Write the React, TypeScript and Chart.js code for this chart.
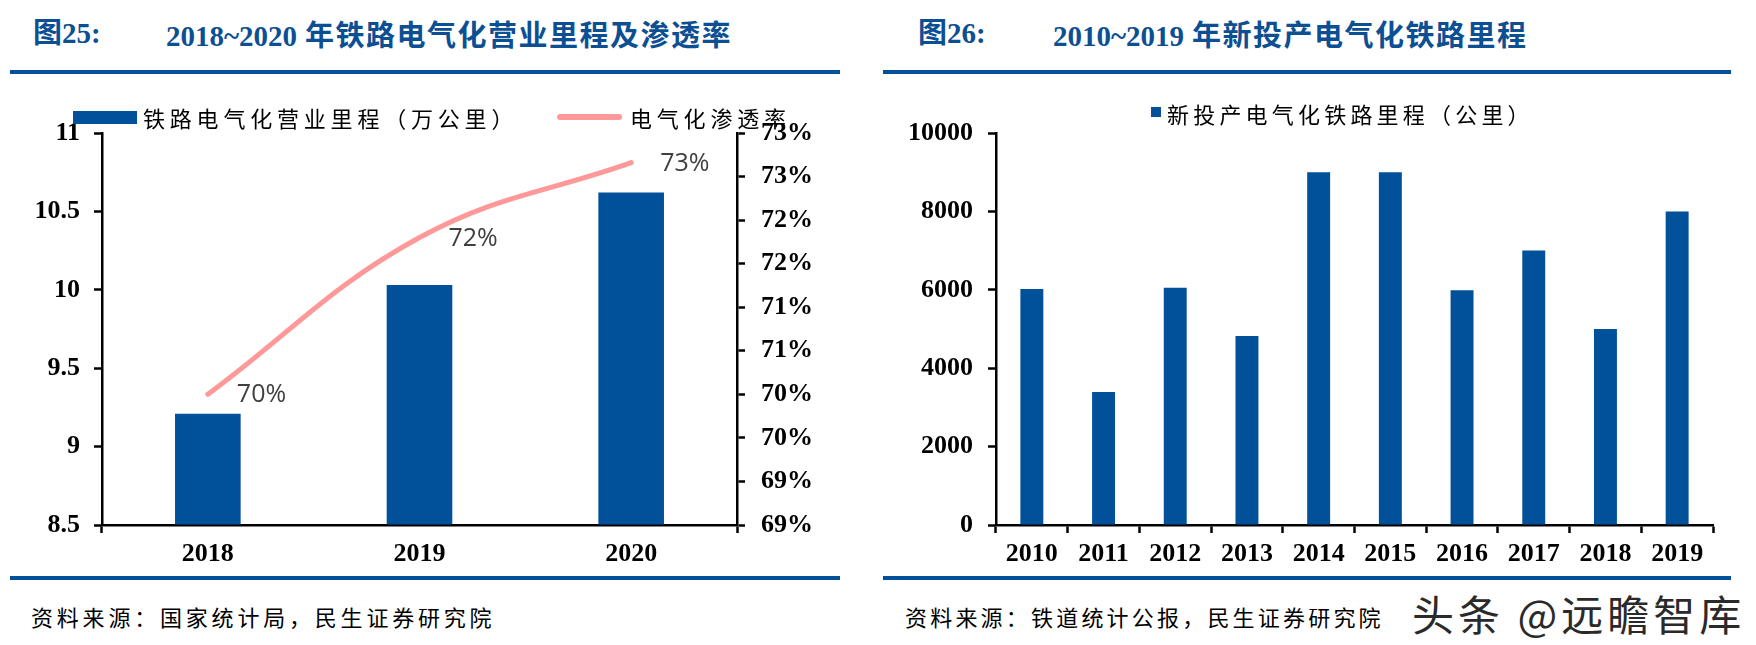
import React, { useEffect, useRef } from "react";
import { Chart, registerables } from "chart.js";

Chart.register(...registerables);

// ---------- data: figure 25 ----------
const railYears = ["2018", "2019", "2020"];
const electrifiedMileage = [9.21, 10.03, 10.62]; // 万公里
const electrificationRate = [70.0, 71.8, 72.66]; // %
const mileageAxisMin = 8.5;
const mileageAxisMax = 11;
const mileageAxisStep = 0.5;
const rateAxisMin = 68.5;
const rateAxisMax = 73;
const rateAxisStep = 0.5;

// ---------- data: figure 26 ----------
const newYears = ["2010", "2011", "2012", "2013", "2014", "2015", "2016", "2017", "2018", "2019"];
const newMileage = [6020, 3390, 6050, 4820, 9000, 9000, 5990, 7000, 5000, 8000]; // 公里
const newAxisMin = 0;
const newAxisMax = 10000;
const newAxisStep = 2000;

// ---------- texts ----------
const title25No = "图25:";
const title25 = "2018~2020 年铁路电气化营业里程及渗透率";
const title26No = "图26:";
const title26 = "2010~2019 年新投产电气化铁路里程";
const legendMileage = "铁路电气化营业里程（万公里）";
const legendRate = "电气化渗透率";
const legendNew = "新投产电气化铁路里程（公里）";
const source25 = "资料来源：国家统计局，民生证券研究院";
const source26 = "资料来源：铁道统计公报，民生证券研究院";
const watermark = "头条 @远瞻智库";

const BLUE = "#00519A";
const TITLE_BLUE = "#0D4F93";
const PINK = "#FF9898";
const SERIF = '"Liberation Serif", "Times New Roman", "Noto Sans CJK SC", serif';
const CJK = '"Noto Sans CJK SC", "Liberation Serif", sans-serif';
const TICK_FONT = { family: '"Liberation Serif", "Times New Roman", serif', size: 26, weight: "bold" as const };

const rateLabelPlugin = {
  id: "rateLabels",
  afterDatasetsDraw(chart: any) {
    const meta = chart.getDatasetMeta(0);
    const ctx = chart.ctx;
    ctx.save();
    ctx.font = '25px "Open Sans", "Noto Sans", sans-serif';
    ctx.fillStyle = "#404040";
    ctx.textAlign = "left";
    ctx.textBaseline = "middle";
    meta.data.forEach((pt: any, i: number) => {
      ctx.fillText(Math.round(electrificationRate[i]) + "%", pt.x + 29, pt.y + 1);
    });
    ctx.restore();
  },
};

function LeftChart() {
  const ref = useRef<HTMLCanvasElement>(null);
  useEffect(() => {
    const chart = new Chart(ref.current as HTMLCanvasElement, {
      type: "bar",
      data: {
        labels: railYears,
        datasets: [
          {
            type: "line",
            label: legendRate,
            data: electrificationRate,
            yAxisID: "y1",
            borderColor: PINK,
            backgroundColor: PINK,
            borderWidth: 5,
            tension: 0.4,
            pointRadius: 0,
            borderCapStyle: "round",
            order: 0,
          } as any,
          {
            type: "bar",
            label: legendMileage,
            data: electrifiedMileage,
            yAxisID: "y",
            backgroundColor: BLUE,
            barPercentage: 0.31,
            categoryPercentage: 1,
            base: mileageAxisMin,
            order: 1,
          } as any,
        ],
      },
      options: {
        responsive: false,
        devicePixelRatio: 1,
        animation: false,
        layout: { padding: { top: 33, left: 0, right: 0, bottom: 0 } },
        plugins: { legend: { display: false }, tooltip: { enabled: false } },
        scales: {
          x: {
            offset: true,
            grid: {
              offset: true,
              drawOnChartArea: false,
              drawTicks: true,
              tickLength: 8,
              tickWidth: 2.5,
              tickColor: (c: any) => (c.type === "tick" && c.index > 0 ? "rgba(0,0,0,0)" : "#000"),
            },
            border: { color: "#000", width: 2.5 },
            ticks: { font: TICK_FONT, color: "#000", padding: 6, maxRotation: 0 },
            afterFit: (s: any) => { s.height = 55; },
          },
          y: {
            position: "left",
            min: mileageAxisMin,
            max: mileageAxisMax,
            grid: { drawOnChartArea: false, tickLength: 8, tickWidth: 2.5, tickColor: "#000" },
            border: { color: "#000", width: 2.5 },
            ticks: {
              stepSize: mileageAxisStep,
              font: TICK_FONT,
              color: "#000",
              padding: 14,
              callback: (v: any) => String(Math.round(Number(v) * 10) / 10),
            },
            afterFit: (s: any) => { s.width = 102; },
          },
          y1: {
            position: "right",
            min: rateAxisMin,
            max: rateAxisMax,
            grid: { drawOnChartArea: false, tickLength: 8, tickWidth: 2.5, tickColor: "#000" },
            border: { color: "#000", width: 2.5 },
            ticks: {
              stepSize: rateAxisStep,
              font: TICK_FONT,
              color: "#000",
              padding: 16,
              callback: (v: any) => Math.floor(Number(v) + 0.5 + 1e-9) + "%",
            },
            afterFit: (s: any) => { s.width = 143; },
          },
        },
      } as any,
      plugins: [rateLabelPlugin],
    });
    return () => chart.destroy();
  }, []);
  return <canvas ref={ref} width={880} height={480} style={{ position: "absolute", left: 0, top: 100, width: 880, height: 480 }} />;
}

function RightChart() {
  const ref = useRef<HTMLCanvasElement>(null);
  useEffect(() => {
    const chart = new Chart(ref.current as HTMLCanvasElement, {
      type: "bar",
      data: {
        labels: newYears,
        datasets: [
          {
            label: legendNew,
            data: newMileage,
            backgroundColor: BLUE,
            barPercentage: 0.32,
            categoryPercentage: 1,
          },
        ],
      },
      options: {
        responsive: false,
        devicePixelRatio: 1,
        animation: false,
        layout: { padding: { top: 33, left: 0, right: 43, bottom: 0 } },
        plugins: { legend: { display: false }, tooltip: { enabled: false } },
        scales: {
          x: {
            offset: true,
            grid: { offset: true, drawOnChartArea: false, tickLength: 8, tickWidth: 2.5, tickColor: "#000" },
            border: { color: "#000", width: 2.5 },
            ticks: { font: TICK_FONT, color: "#000", padding: 6, maxRotation: 0, autoSkip: false },
            afterFit: (s: any) => { s.height = 55; },
          },
          y: {
            min: newAxisMin,
            max: newAxisMax,
            grid: { drawOnChartArea: false, tickLength: 8, tickWidth: 2.5, tickColor: "#000" },
            border: { color: "#000", width: 2.5 },
            ticks: {
              stepSize: newAxisStep,
              font: TICK_FONT,
              color: "#000",
              padding: 15,
              callback: (v: any) => String(v),
            },
            afterFit: (s: any) => { s.width = 116; },
          },
        },
      } as any,
    });
    return () => chart.destroy();
  }, []);
  return <canvas ref={ref} width={876} height={480} style={{ position: "absolute", left: 880, top: 100, width: 876, height: 480 }} />;
}

const abs = (o: React.CSSProperties): React.CSSProperties => ({ position: "absolute", whiteSpace: "nowrap", ...o });

function Title({ x1, x2, no, text }: { x1: number; x2: number; no: string; text: string }) {
  const m = text.match(/^(\S+)\s(.*)$/);
  const latin = m ? m[1] : text;
  const cjk = m ? m[2] : "";
  const base: React.CSSProperties = { top: 14, lineHeight: "38px", fontSize: 29, fontWeight: "bold", color: TITLE_BLUE, fontFamily: SERIF };
  return (
    <>
      <div style={abs({ ...base, left: x1 })}>{no}</div>
      <div style={abs({ ...base, left: x2 })}>
        <span>{latin}</span>
        <span style={{ fontFamily: CJK, fontSize: 29, marginLeft: 8, letterSpacing: 1.5 }}>{cjk}</span>
      </div>
    </>
  );
}

const legendText: React.CSSProperties = { fontFamily: CJK, fontSize: 22, letterSpacing: 4.8, color: "#000", lineHeight: "28px" };
const sourceText: React.CSSProperties = { fontFamily: CJK, fontSize: 22, letterSpacing: 3.8, color: "#000", lineHeight: "30px" };

export default function App() {
  return (
    <div style={{ position: "absolute", left: 0, top: 0, width: 1756, height: 645, background: "#fff", overflow: "hidden" }}>
      <Title x1={33} x2={166} no={title25No} text={title25} />
      <Title x1={918} x2={1053} no={title26No} text={title26} />

      <div style={abs({ left: 10, top: 70, width: 830, height: 4, background: BLUE })} />
      <div style={abs({ left: 883, top: 70, width: 848, height: 4, background: BLUE })} />
      <div style={abs({ left: 10, top: 576, width: 830, height: 4, background: BLUE })} />
      <div style={abs({ left: 883, top: 576, width: 848, height: 4, background: BLUE })} />

      <LeftChart />
      <RightChart />

      {/* legends */}
      <div style={abs({ left: 73, top: 111, width: 64, height: 13, background: BLUE })} />
      <div style={abs({ ...legendText, left: 143, top: 103 })}>{legendMileage}</div>
      <div style={abs({ left: 557, top: 114, width: 65, height: 6, borderRadius: 3, background: PINK })} />
      <div style={abs({ ...legendText, left: 630, top: 103 })}>{legendRate}</div>

      <div style={abs({ left: 1151, top: 107, width: 10, height: 10, background: BLUE })} />
      <div style={abs({ ...legendText, letterSpacing: 4.2, left: 1167, top: 99 })}>{legendNew}</div>

      {/* sources */}
      <div style={abs({ ...sourceText, left: 31, top: 601 })}>{source25}</div>
      <div style={abs({ ...sourceText, letterSpacing: 3.2, left: 905, top: 601 })}>{source26}</div>

      <div
        style={abs({
          left: 1412,
          top: 588,
          fontFamily: CJK,
          fontSize: 42,
          letterSpacing: 4,
          lineHeight: "50px",
          color: "#2a2a2a",
          textShadow: "0 0 3px #fff, 0 0 3px #fff, 1px 1px 2px #fff",
        })}
      >
        {watermark}
      </div>
    </div>
  );
}
